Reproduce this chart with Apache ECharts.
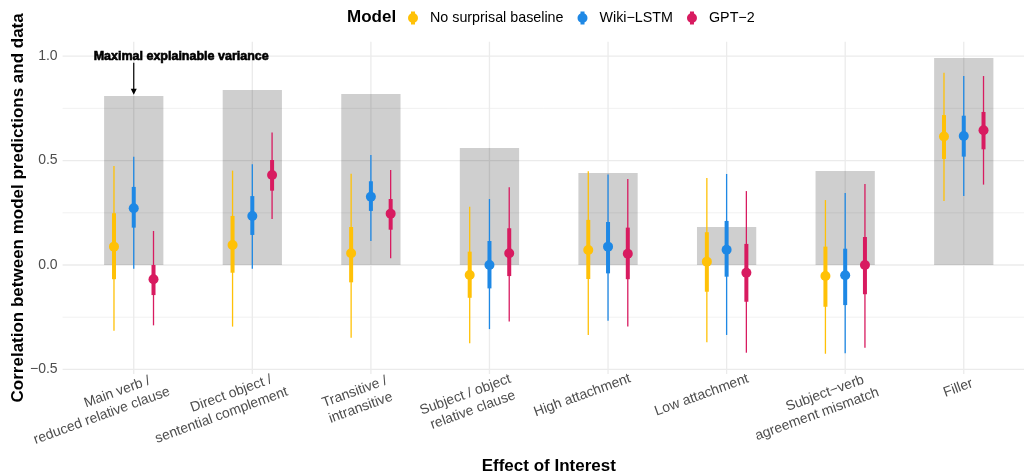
<!DOCTYPE html>
<html>
<head>
<meta charset="utf-8">
<script src="https://cdn.jsdelivr.net/npm/echarts@6/dist/echarts.min.js"></script>
<style>
  html, body { margin: 0; padding: 0; background: #ffffff; }
  #chart { width: 1024px; height: 474px; }
</style>
</head>
<body>
<div id="chart"></div>
<script>
// Effects of interest (x categories) and models
const categories = [
  'Main verb /\nreduced relative clause',
  'Direct object /\nsentential complement',
  'Transitive /\nintransitive',
  'Subject / object\nrelative clause',
  'High attachment',
  'Low attachment',
  'Subject\u2212verb\nagreement mismatch',
  'Filler'
];
const models = ['No surprisal baseline', 'Wiki\u2212LSTM', 'GPT\u22122'];

// Ceiling: maximal explainable variance per effect
const maxVariance = [0.809, 0.838, 0.819, 0.560, 0.441, 0.182, 0.450, 0.991];

// No surprisal baseline: estimate, inner and outer intervals
const baselineEst     = [0.088, 0.096, 0.056, -0.048, 0.072, 0.016, -0.053, 0.615];
const baselineInnerLo = [-0.068, -0.037, -0.083, -0.157, -0.067, -0.128, -0.200, 0.508];
const baselineInnerHi = [0.248, 0.235, 0.182, 0.064, 0.216, 0.157, 0.088, 0.718];
const baselineOuterLo = [-0.315, -0.295, -0.348, -0.375, -0.335, -0.370, -0.425, 0.307];
const baselineOuterHi = [0.474, 0.452, 0.437, 0.279, 0.449, 0.417, 0.311, 0.921];

// Wiki-LSTM
const lstmEst     = [0.272, 0.235, 0.327, 0.000, 0.088, 0.073, -0.049, 0.618];
const lstmInnerLo = [0.179, 0.144, 0.259, -0.112, -0.040, -0.056, -0.192, 0.519];
const lstmInnerHi = [0.374, 0.330, 0.401, 0.115, 0.206, 0.211, 0.078, 0.715];
const lstmOuterLo = [-0.018, -0.018, 0.115, -0.307, -0.267, -0.335, -0.423, 0.330];
const lstmOuterHi = [0.519, 0.482, 0.527, 0.316, 0.434, 0.436, 0.345, 0.905];

// GPT-2
const gptEst     = [-0.068, 0.431, 0.246, 0.056, 0.054, -0.037, 0.000, 0.645];
const gptInnerLo = [-0.144, 0.356, 0.169, -0.053, -0.068, -0.176, -0.140, 0.554];
const gptInnerHi = [0.000, 0.503, 0.316, 0.176, 0.179, 0.101, 0.134, 0.733];
const gptOuterLo = [-0.289, 0.220, 0.032, -0.271, -0.295, -0.420, -0.396, 0.385];
const gptOuterHi = [0.163, 0.634, 0.455, 0.372, 0.412, 0.354, 0.388, 0.905];

// Axis ticks
const yMajorTicks = [-0.5, 0, 0.5, 1.0];
const yMinorTicks = [-0.25, 0.25, 0.75];

// ---- layout / style ----
const FONT = '"Liberation Sans", Arial, Helvetica, sans-serif';
const colors = ['#FFC107', '#1E88E5', '#D81B60'];
const X_MIN = 0.4, X_MAX = categories.length + 0.6;
const Y_MIN = -0.522, Y_MAX = 1.0694;
const DODGE = 0.5 / models.length;
const BAR_HALF = 0.25;
const LABEL_HJUST = 0.8;
const LABEL_SIZE = 14;

const intervals = [
  [baselineOuterLo, baselineInnerLo, baselineEst, baselineInnerHi, baselineOuterHi],
  [lstmOuterLo, lstmInnerLo, lstmEst, lstmInnerHi, lstmOuterHi],
  [gptOuterLo, gptInnerLo, gptEst, gptInnerHi, gptOuterHi]
];

// measure tick label lines so each line can be justified at 80% of its width
const measureCtx = document.createElement('canvas').getContext('2d');
measureCtx.font = LABEL_SIZE + 'px ' + FONT;
const labelRich = {};
categories.forEach((c, i) => {
  c.split('\n').forEach((line, j) => {
    const w = measureCtx.measureText(line).width;
    labelRich['c' + i + '_' + j] = {
      fontFamily: FONT, fontSize: LABEL_SIZE, color: '#4D4D4D', lineHeight: 17,
      align: 'center',
      padding: [0, 2 * (LABEL_HJUST - 0.5) * w, 0, 0]
    };
  });
});

const fmtY = v => (v < 0 ? '\u2212' : '') + Math.abs(v).toFixed(1);

// legend key: point with a short thick range bar (both sub-paths clockwise so they fill as one)
const legendIcon = 'path://M3,0 L7,0 L7,13 L3,13 Z M0,6.5 A5,5 0 1 1 10,6.5 A5,5 0 1 1 0,6.5 Z';

const chart = echarts.init(document.getElementById('chart'), null, { renderer: 'canvas' });

const series = [];

// panel grid lines
series.push({
  type: 'custom', name: 'hgrid', z: 0, silent: true,
  data: yMajorTicks.map(v => [v, 1]).concat(yMinorTicks.map(v => [v, 0])),
  renderItem: (params, api) => {
    const v = api.value(0);
    const a = api.coord([X_MIN, v]);
    const b = api.coord([X_MAX, v]);
    return { type: 'line', shape: { x1: a[0], y1: a[1], x2: b[0], y2: b[1] },
      style: { stroke: '#EBEBEB', lineWidth: api.value(1) ? 1.3 : 0.7 } };
  }
});
series.push({
  type: 'custom', name: 'vgrid', z: 0, silent: true,
  data: categories.map((c, i) => [i + 1, 0]),
  renderItem: (params, api) => {
    const x = api.value(0);
    const a = api.coord([x, Y_MIN]);
    const b = api.coord([x, Y_MAX]);
    return { type: 'line', shape: { x1: a[0], y1: a[1], x2: b[0], y2: b[1] },
      style: { stroke: '#EBEBEB', lineWidth: 1.3 } };
  }
});

// maximal explainable variance bars
series.push({
  type: 'custom', name: 'ceiling', z: 1, silent: true,
  data: maxVariance.map((v, i) => [i + 1, v]),
  renderItem: (params, api) => {
    const x = api.value(0), v = api.value(1);
    const a = api.coord([x - BAR_HALF, v]);
    const b = api.coord([x + BAR_HALF, 0]);
    return { type: 'rect', shape: { x: a[0], y: a[1], width: b[0] - a[0], height: b[1] - a[1] },
      style: { fill: 'rgba(0,0,0,0.19)' } };
  }
});

// model point ranges
models.forEach((name, m) => {
  const [oLo, iLo, est, iHi, oHi] = intervals[m];
  const color = colors[m];
  series.push({
    type: 'custom', name: name, z: 2, silent: true,
    itemStyle: { color: color },
    encode: { x: 0, y: [1, 2, 3, 4, 5] },
    data: categories.map((c, i) => [i + 1 + (m - 1) * DODGE, oLo[i], iLo[i], est[i], iHi[i], oHi[i]]),
    renderItem: (params, api) => {
      const x = api.value(0);
      const p1 = api.coord([x, api.value(1)]);
      const p2 = api.coord([x, api.value(2)]);
      const p3 = api.coord([x, api.value(3)]);
      const p4 = api.coord([x, api.value(4)]);
      const p5 = api.coord([x, api.value(5)]);
      return { type: 'group', children: [
        { type: 'line', shape: { x1: p1[0], y1: p1[1], x2: p5[0], y2: p5[1] }, style: { stroke: color, lineWidth: 1.3 } },
        { type: 'line', shape: { x1: p2[0], y1: p2[1], x2: p4[0], y2: p4[1] }, style: { stroke: color, lineWidth: 4 } },
        { type: 'circle', shape: { cx: p3[0], cy: p3[1], r: 5 }, style: { fill: color } }
      ] };
    }
  });
});

// annotation pointing at the first ceiling bar
series.push({
  type: 'custom', name: 'note', z: 3, silent: true,
  data: [[1, maxVariance[0]]],
  renderItem: (params, api) => {
    const x = api.value(0), top = api.value(1);
    const t = api.coord([x + 0.4, 1.0]);
    const a = api.coord([x, 0.968]);
    const b = api.coord([x, top + 0.006]);
    return { type: 'group', children: [
      { type: 'text', x: t[0], y: t[1], style: {
          text: 'Maximal explainable variance', fontFamily: FONT, fontWeight: 'bold', fontSize: 12.5,
          fill: '#000', align: 'center', verticalAlign: 'middle', stroke: '#000', lineWidth: 0.6 } },
      { type: 'line', shape: { x1: a[0], y1: a[1], x2: b[0], y2: b[1] - 4 }, style: { stroke: '#000', lineWidth: 1.2 } },
      { type: 'polygon', shape: { points: [[b[0] - 3, b[1] - 6], [b[0] + 3, b[1] - 6], [b[0], b[1]]] }, style: { fill: '#000' } }
    ] };
  }
});

chart.setOption({
  animation: false,
  backgroundColor: '#ffffff',
  color: colors,
  textStyle: { fontFamily: FONT },
  grid: { left: 62.6, top: 41.7, width: 972.3, height: 332.3, containLabel: false, outerBoundsMode: 'none' },
  graphic: [{
    type: 'text', x: 347, y: 17.5, silent: true,
    style: { text: 'Model', fontFamily: FONT, fontWeight: 'bold', fontSize: 17, fill: '#000', verticalAlign: 'middle' }
  }],
  legend: {
    left: 408, top: 11, padding: 0, itemWidth: 10, itemHeight: 13, itemGap: 14,
    selectedMode: false,
    textStyle: { fontFamily: FONT, fontSize: 14.3, color: '#000', padding: [0, 0, 0, 7] },
    data: models.map((n, m) => ({ name: n, icon: legendIcon, itemStyle: { color: colors[m] } }))
  },
  xAxis: {
    type: 'value', min: X_MIN, max: X_MAX,
    name: 'Effect of Interest', nameLocation: 'middle', nameGap: 92, nameMoveOverlap: false,
    nameTextStyle: { fontFamily: FONT, fontSize: 17, fontWeight: 'bold', color: '#000', verticalAlign: 'middle' },
    axisLine: { show: false }, axisTick: { show: false }, splitLine: { show: false },
    axisLabel: {
      customValues: categories.map((c, i) => i + 1),
      rotate: 20, align: 'center', verticalAlign: 'top', margin: 3,
      formatter: v => {
        const i = Math.round(v) - 1;
        return categories[i].split('\n').map((line, j) => '{c' + i + '_' + j + '|' + line + '}').join('\n');
      },
      rich: labelRich
    }
  },
  yAxis: {
    type: 'value', min: Y_MIN, max: Y_MAX,
    name: 'Correlation between model predictions and data', nameLocation: 'middle', nameGap: 44, nameMoveOverlap: false,
    nameTextStyle: { fontFamily: FONT, fontSize: 17, fontWeight: 'bold', color: '#000', verticalAlign: 'middle' },
    axisLine: { show: false }, axisTick: { show: false }, splitLine: { show: false },
    axisLabel: {
      customValues: yMajorTicks, formatter: fmtY, margin: 5,
      fontFamily: FONT, fontSize: 14, color: '#4D4D4D'
    }
  },
  series: series
});
</script>
</body>
</html>
